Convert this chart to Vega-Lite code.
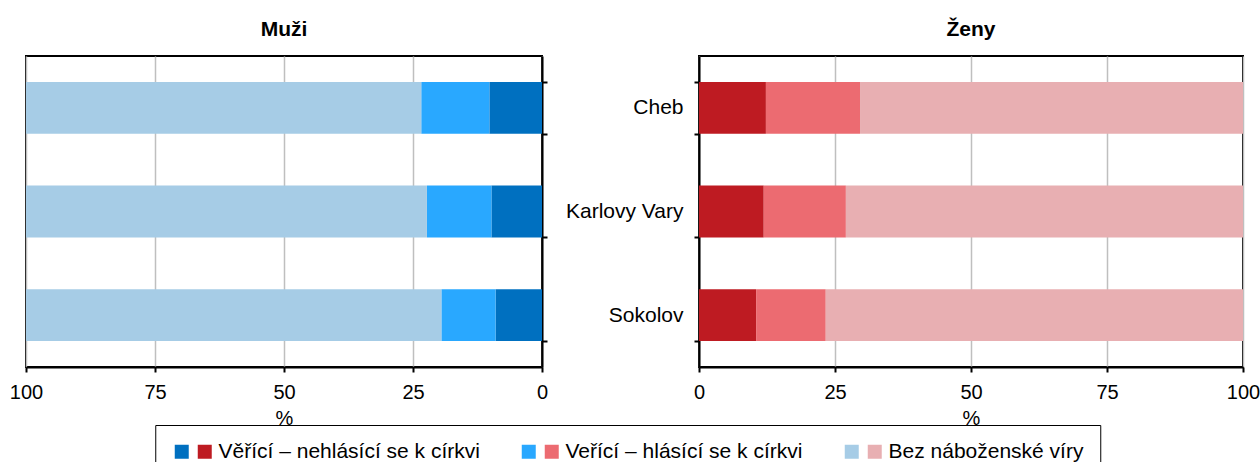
{
  "$schema": "https://vega.github.io/schema/vega-lite/v6.json",
  "background": "white",
  "padding": {"left": 8, "top": 18, "right": 0, "bottom": -18},
  "bounds": "flush",
  "spacing": 157,
  "config": {
    "font": "Liberation Sans",
    "view": {"stroke": "black", "strokeWidth": 2},
    "axis": {
      "labelFont": "Liberation Sans",
      "labelColor": "black",
      "labelFontSize": 20,
      "labelFlush": false,
      "domainColor": "black",
      "domainWidth": 2,
      "tickColor": "black",
      "tickWidth": 2,
      "tickSize": 5,
      "gridColor": "#BFBFBF",
      "gridWidth": 1.5,
      "titleFont": "Liberation Sans",
      "titleFontSize": 20,
      "titleFontWeight": "normal",
      "titleColor": "black"
    },
    "title": {"font": "Liberation Sans", "fontSize": 21, "fontWeight": "bold", "color": "black", "offset": 16, "frame": "group"},
    "legend": {"labelFont": "Liberation Sans", "labelFontSize": 21, "labelColor": "black", "labelLimit": 500},
    "scale": {"bandPaddingInner": 0.5, "bandPaddingOuter": 0.25}
  },
  "data": {
    "values": [
      {"pohlavi": "Muži", "okres": "Cheb", "kategorie": "Věřící – nehlásící se k církvi", "podil": 10.2},
      {"pohlavi": "Muži", "okres": "Cheb", "kategorie": "Veřící – hlásící se k církvi", "podil": 13.2},
      {"pohlavi": "Muži", "okres": "Cheb", "kategorie": "Bez náboženské víry", "podil": 76.6},
      {"pohlavi": "Muži", "okres": "Karlovy Vary", "kategorie": "Věřící – nehlásící se k církvi", "podil": 9.8},
      {"pohlavi": "Muži", "okres": "Karlovy Vary", "kategorie": "Veřící – hlásící se k církvi", "podil": 12.5},
      {"pohlavi": "Muži", "okres": "Karlovy Vary", "kategorie": "Bez náboženské víry", "podil": 77.7},
      {"pohlavi": "Muži", "okres": "Sokolov", "kategorie": "Věřící – nehlásící se k církvi", "podil": 9.0},
      {"pohlavi": "Muži", "okres": "Sokolov", "kategorie": "Veřící – hlásící se k církvi", "podil": 10.5},
      {"pohlavi": "Muži", "okres": "Sokolov", "kategorie": "Bez náboženské víry", "podil": 80.5},
      {"pohlavi": "Ženy", "okres": "Cheb", "kategorie": "Věřící – nehlásící se k církvi", "podil": 12.3},
      {"pohlavi": "Ženy", "okres": "Cheb", "kategorie": "Veřící – hlásící se k církvi", "podil": 17.3},
      {"pohlavi": "Ženy", "okres": "Cheb", "kategorie": "Bez náboženské víry", "podil": 70.4},
      {"pohlavi": "Ženy", "okres": "Karlovy Vary", "kategorie": "Věřící – nehlásící se k církvi", "podil": 11.9},
      {"pohlavi": "Ženy", "okres": "Karlovy Vary", "kategorie": "Veřící – hlásící se k církvi", "podil": 15.1},
      {"pohlavi": "Ženy", "okres": "Karlovy Vary", "kategorie": "Bez náboženské víry", "podil": 73.0},
      {"pohlavi": "Ženy", "okres": "Sokolov", "kategorie": "Věřící – nehlásící se k církvi", "podil": 10.5},
      {"pohlavi": "Ženy", "okres": "Sokolov", "kategorie": "Veřící – hlásící se k církvi", "podil": 12.8},
      {"pohlavi": "Ženy", "okres": "Sokolov", "kategorie": "Bez náboženské víry", "podil": 76.7}
    ]
  },
  "resolve": {"scale": {"color": "independent", "x": "independent", "y": "independent"}, "legend": {"color": "independent"}},
  "hconcat": [
    {
      "title": "Muži",
      "width": 516,
      "height": 311,
      "transform": [{"filter": "datum.pohlavi === 'Muži'"}],
      "mark": {"type": "bar"},
      "encoding": {
        "y": {"field": "okres", "type": "nominal", "sort": ["Cheb", "Karlovy Vary", "Sokolov"],
              "axis": {"orient": "right", "labels": false, "title": null, "tickBand": "extent", "grid": false}},
        "x": {"field": "podil", "type": "quantitative", "stack": "zero",
              "scale": {"domain": [0, 100], "reverse": true, "nice": false},
              "axis": {"values": [0, 25, 50, 75, 100], "grid": true, "title": "%", "labelPadding": 10, "titlePadding": 6}},
        "color": {"field": "kategorie", "type": "nominal",
                  "scale": {"domain": ["Věřící – nehlásící se k církvi", "Veřící – hlásící se k církvi", "Bez náboženské víry"],
                            "range": ["#0070C0", "#29A8FF", "#A6CCE6"]},
                  "legend": {"orient": "none", "legendX": 129.25, "legendY": 369, "direction": "horizontal", "columns": 3,
                             "title": null, "padding": 16, "strokeColor": "black", "fillColor": "white",
                             "symbolType": "square", "symbolSize": 196, "symbolStrokeWidth": 0, "symbolOpacity": 1,
                             "labelOffset": 26.25, "labelOpacity": 0, "columnPadding": 38}},
        "order": {"field": "kategorie", "sort": "descending"}
      }
    },
    {
      "title": {"text": "Ženy", "dy": 11},
      "width": 544,
      "height": 311,
      "transform": [{"filter": "datum.pohlavi === 'Ženy'"}],
      "mark": {"type": "bar"},
      "encoding": {
        "y": {"field": "okres", "type": "nominal", "sort": ["Cheb", "Karlovy Vary", "Sokolov"],
              "axis": {"orient": "left", "title": null, "tickBand": "extent", "grid": false, "labelPadding": 11, "labelFontSize": 21}},
        "x": {"field": "podil", "type": "quantitative", "stack": "zero",
              "scale": {"domain": [0, 100], "nice": false},
              "axis": {"values": [0, 25, 50, 75, 100], "grid": true, "title": "%", "labelPadding": 10, "titlePadding": 6}},
        "color": {"field": "kategorie", "type": "nominal",
                  "scale": {"domain": ["Věřící – nehlásící se k církvi", "Veřící – hlásící se k církvi", "Bez náboženské víry"],
                            "range": ["#BE1B22", "#EC6B71", "#E8AFB2"]},
                  "legend": {"orient": "none", "legendX": -504.75, "legendY": 385, "direction": "horizontal", "columns": 3,
                             "title": null, "padding": 0,
                             "symbolType": "square", "symbolSize": 196, "symbolStrokeWidth": 0, "symbolOpacity": 1,
                             "labelOffset": 3.25, "columnPadding": 61}},
        "order": {"field": "kategorie", "sort": "descending"}
      }
    }
  ]
}
